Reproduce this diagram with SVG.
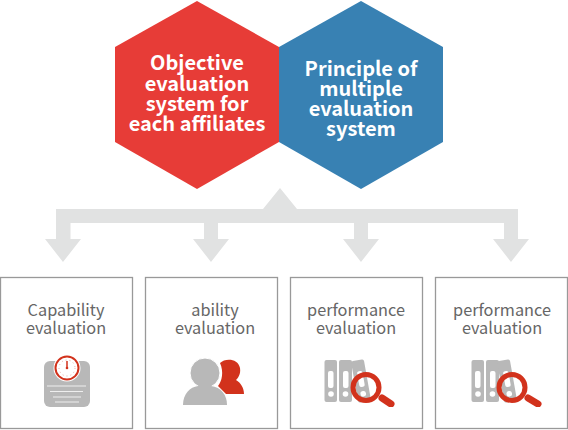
<svg xmlns="http://www.w3.org/2000/svg" width="568" height="430" viewBox="0 0 568 430">
<defs><filter id="soft" x="-5%" y="-5%" width="110%" height="110%"><feGaussianBlur stdDeviation="0.45"/></filter></defs>
<style>
.h{font:700 20px "Noto Sans CJK KR","Noto Sans",sans-serif;fill:#fff;text-anchor:middle}
.t{font:400 16.300px "Noto Sans CJK KR","Noto Sans",sans-serif;fill:#666;text-anchor:middle}
.b{fill:#fff;stroke:#999;stroke-width:1.3}
.g{fill:#b8b8b8}
.r{fill:#d2321c}
.c{fill:#e1e2e2}
.w{fill:#fff}
.l{fill:none;stroke:#d2321c;stroke-width:5}
.m{fill:none;stroke:#d2321c;stroke-width:7;stroke-linecap:round}
.i{filter:url(#soft)}
</style>
<rect width="568" height="430" fill="#fff"/>
<g id="connectors">
<path class="c" d="M280 188L297 209H518V239H529L511 262L493 239H504V223H368V239H379L361 262L343 239H354V223H218V239H229L211 262L193 239H204V223H70.500V239H81L63 262L45 239H56V209H263Z"/>
</g>
<g id="hex-red">
<polygon points="197,1 279,47 279,142 197,189 115,142 115,47" fill="#e73c37"/>
<text class="h"><tspan x="197" y="70">Objective</tspan><tspan x="197" y="91">evaluation</tspan><tspan x="197" y="111">system for</tspan><tspan x="197" y="131">each affiliates</tspan></text>
</g>
<g id="hex-blue">
<polygon points="361,1 443,47 443,142 361,189 279,142 279,47" fill="#3881b3"/>
<text class="h"><tspan x="361" y="76">Principle of</tspan><tspan x="361" y="96">multiple</tspan><tspan x="361" y="116">evaluation</tspan><tspan x="361" y="136">system</tspan></text>
</g>
<g id="box-capability">
<rect class="b" x="0.500" y="277.500" width="132" height="151"/>
<text class="t"><tspan x="66" y="316">Capability</tspan><tspan x="66" y="334">evaluation</tspan></text>
<g class="i">
<rect class="g" x="44" y="361" width="46" height="46" rx="6"/>
<circle class="w" cx="67" cy="368" r="13.500"/>
<circle cx="67" cy="368" r="11.500" fill="#fff" stroke="#d2321c" stroke-width="2"/>
<circle cx="67" cy="368" r="8" fill="none" stroke="#e8a79c" stroke-width="1" stroke-dasharray="1 3"/>
<path d="M67 361V368" stroke="#d2321c" stroke-width="1.500"/>
<circle class="r" cx="67" cy="368" r="1.300"/>
<path d="M47 386H86M50 391.500H83M53 397H81M55 402H79" stroke="#eee" stroke-width="1.200" fill="none"/>
</g>
</g>
<g id="box-ability">
<rect class="b" x="145.500" y="277.500" width="132" height="151"/>
<text class="t"><tspan x="215" y="316">ability</tspan><tspan x="215" y="334">evaluation</tspan></text>
<g class="i">
<path class="r" d="M220 363C225 358 238 358 240 368C241 374 238 378 236 380C241 383 244 388 244 394H226L218 386C222 381 224 372 220 363Z"/>
<circle class="g" cx="205" cy="373" r="15" stroke="#fff" stroke-width="1"/>
<path class="g" d="M183 405C183 394 190 387 198 386H211C221 387 227 395 227 405Z"/>
</g>
</g>
<g id="box-performance-1">
<rect class="b" x="290.500" y="277.500" width="132" height="151"/>
<text class="t"><tspan x="356" y="316">performance</tspan><tspan x="356" y="334">evaluation</tspan></text>
<g class="i">
<rect class="g" x="324.500" y="360" width="12.500" height="42" rx="2"/>
<rect class="g" x="339" y="360" width="13" height="42" rx="2"/>
<g transform="rotate(-10 361 381)"><rect class="g" x="354.500" y="360" width="13" height="42" rx="2"/><rect class="w" x="358.500" y="371" width="5.500" height="16" rx="2"/><circle class="w" cx="361" cy="394" r="2.800"/></g>
<rect class="w" x="328" y="371" width="5.500" height="17" rx="2"/>
<rect class="w" x="343" y="371" width="5.500" height="17" rx="2"/>
<circle class="w" cx="331" cy="394" r="2.800"/>
<circle class="w" cx="345.500" cy="394" r="2.800"/>
<circle class="l" cx="366" cy="387.500" r="13"/>
<path class="m" d="M382 398L391 404"/>
</g>
</g>
<g id="box-performance-2">
<rect class="b" x="435.500" y="277.500" width="132" height="151"/>
<text class="t"><tspan x="502" y="316">performance</tspan><tspan x="502" y="334">evaluation</tspan></text>
<g class="i">
<rect class="g" x="471.500" y="360" width="12.500" height="42" rx="2"/>
<rect class="g" x="486" y="360" width="13" height="42" rx="2"/>
<g transform="rotate(-10 507 381)"><rect class="g" x="500.500" y="360" width="13" height="42" rx="2"/><rect class="w" x="504.500" y="371" width="5.500" height="16" rx="2"/><circle class="w" cx="507" cy="394" r="2.800"/></g>
<rect class="w" x="475" y="371" width="5.500" height="17" rx="2"/>
<rect class="w" x="490" y="371" width="5.500" height="17" rx="2"/>
<circle class="w" cx="478" cy="394" r="2.800"/>
<circle class="w" cx="492.500" cy="394" r="2.800"/>
<circle class="l" cx="512" cy="387.500" r="13"/>
<path class="m" d="M528 398L538 404"/>
</g>
</g>
</svg>
